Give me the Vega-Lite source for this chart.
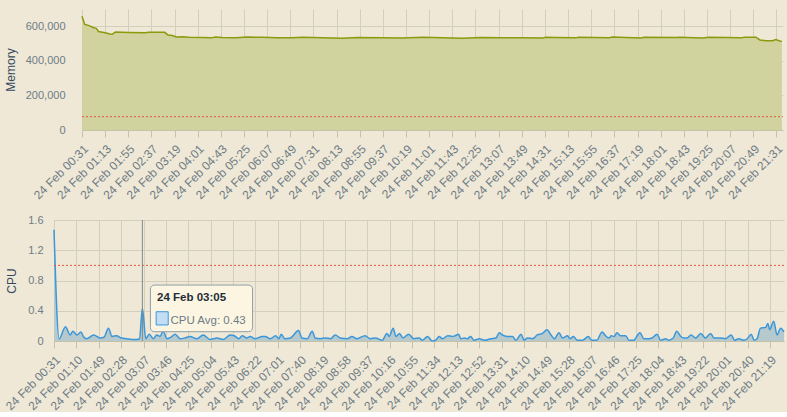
{
  "$schema": "https://vega.github.io/schema/vega-lite/v6.json",
  "background": "#EFE8D6",
  "padding": {"left": 3, "top": 9, "right": 5, "bottom": 0},
  "spacing": 13,
  "config": {
    "font": "Liberation Sans",
    "view": {"stroke": null},
    "axis": {
      "labelFont": "Liberation Sans", "labelFontSize": 11, "labelColor": "#6E7C86",
      "titleFont": "Liberation Sans", "titleFontSize": 12, "titleFontWeight": "normal", "titleColor": "#34495E",
      "gridColor": "#D3CFBC", "gridOpacity": 1, "domainColor": "#C4C2A8", "tickColor": "#C4C2A8"
    },
    "axisX": {"labelAngle": -45, "labelFontSize": 12, "tickSize": 7, "labelOverlap": false, "labelPadding": 6, "labelFlush": false},
    "axisY": {"domain": false, "ticks": false, "tickSize": 0, "labelOverlap": false, "minExtent": 0}
  },
  "datasets": {
    "mem": [
      {"t": "2024-02-24T00:31:00Z", "v": 658000},
      {"t": "2024-02-24T00:36:00Z", "v": 611000},
      {"t": "2024-02-24T00:40:00Z", "v": 608000},
      {"t": "2024-02-24T00:46:00Z", "v": 601000},
      {"t": "2024-02-24T00:52:00Z", "v": 592000},
      {"t": "2024-02-24T00:57:00Z", "v": 588000},
      {"t": "2024-02-24T01:01:00Z", "v": 570000},
      {"t": "2024-02-24T01:13:00Z", "v": 562000},
      {"t": "2024-02-24T01:22:00Z", "v": 556000},
      {"t": "2024-02-24T01:26:00Z", "v": 554000},
      {"t": "2024-02-24T01:32:00Z", "v": 567000},
      {"t": "2024-02-24T01:56:00Z", "v": 564000},
      {"t": "2024-02-24T02:26:00Z", "v": 562000},
      {"t": "2024-02-24T02:32:00Z", "v": 566000},
      {"t": "2024-02-24T03:01:00Z", "v": 565000},
      {"t": "2024-02-24T03:07:00Z", "v": 550000},
      {"t": "2024-02-24T03:15:00Z", "v": 547000},
      {"t": "2024-02-24T03:22:00Z", "v": 538000},
      {"t": "2024-02-24T03:33:00Z", "v": 539000},
      {"t": "2024-02-24T03:45:00Z", "v": 536000},
      {"t": "2024-02-24T04:09:00Z", "v": 535000},
      {"t": "2024-02-24T04:26:00Z", "v": 533000},
      {"t": "2024-02-24T04:33:00Z", "v": 538000},
      {"t": "2024-02-24T04:45:00Z", "v": 535000},
      {"t": "2024-02-24T05:10:00Z", "v": 533000},
      {"t": "2024-02-24T05:31:00Z", "v": 538000},
      {"t": "2024-02-24T05:58:00Z", "v": 536000},
      {"t": "2024-02-24T06:25:00Z", "v": 534000},
      {"t": "2024-02-24T06:52:00Z", "v": 533000},
      {"t": "2024-02-24T07:11:00Z", "v": 536000},
      {"t": "2024-02-24T07:47:00Z", "v": 534000},
      {"t": "2024-02-24T08:23:00Z", "v": 531000},
      {"t": "2024-02-24T08:51:00Z", "v": 535000},
      {"t": "2024-02-24T09:36:00Z", "v": 533000},
      {"t": "2024-02-24T10:12:00Z", "v": 532000},
      {"t": "2024-02-24T10:49:00Z", "v": 536000},
      {"t": "2024-02-24T11:25:00Z", "v": 533000},
      {"t": "2024-02-24T12:01:00Z", "v": 531000},
      {"t": "2024-02-24T12:34:00Z", "v": 535000},
      {"t": "2024-02-24T13:14:00Z", "v": 533000},
      {"t": "2024-02-24T13:50:00Z", "v": 534000},
      {"t": "2024-02-24T14:27:00Z", "v": 532000},
      {"t": "2024-02-24T14:33:00Z", "v": 537000},
      {"t": "2024-02-24T14:51:00Z", "v": 535000},
      {"t": "2024-02-24T15:27:00Z", "v": 533000},
      {"t": "2024-02-24T15:32:00Z", "v": 537000},
      {"t": "2024-02-24T16:28:00Z", "v": 534000},
      {"t": "2024-02-24T16:33:00Z", "v": 538000},
      {"t": "2024-02-24T17:25:00Z", "v": 532000},
      {"t": "2024-02-24T17:31:00Z", "v": 536000},
      {"t": "2024-02-24T18:29:00Z", "v": 535000},
      {"t": "2024-02-24T18:35:00Z", "v": 537000},
      {"t": "2024-02-24T19:17:00Z", "v": 532000},
      {"t": "2024-02-24T19:29:00Z", "v": 536000},
      {"t": "2024-02-24T20:27:00Z", "v": 533000},
      {"t": "2024-02-24T20:33:00Z", "v": 537000},
      {"t": "2024-02-24T20:54:00Z", "v": 537000},
      {"t": "2024-02-24T21:01:00Z", "v": 521000},
      {"t": "2024-02-24T21:12:00Z", "v": 517000},
      {"t": "2024-02-24T21:24:00Z", "v": 516000},
      {"t": "2024-02-24T21:30:00Z", "v": 523000},
      {"t": "2024-02-24T21:37:00Z", "v": 515000},
      {"t": "2024-02-24T21:41:00Z", "v": 514000}
    ],
    "cpu": [
      {"t": "2024-02-24T00:31:00Z", "v": 1.47},
      {"t": "2024-02-24T00:40:00Z", "v": 0.03},
      {"t": "2024-02-24T00:51:00Z", "v": 0.19},
      {"t": "2024-02-24T00:59:00Z", "v": 0.08},
      {"t": "2024-02-24T01:04:00Z", "v": 0.13},
      {"t": "2024-02-24T01:11:00Z", "v": 0.08},
      {"t": "2024-02-24T01:18:00Z", "v": 0.12},
      {"t": "2024-02-24T01:22:00Z", "v": 0.06},
      {"t": "2024-02-24T01:28:00Z", "v": 0.03},
      {"t": "2024-02-24T01:40:00Z", "v": 0.08},
      {"t": "2024-02-24T01:51:00Z", "v": 0.04},
      {"t": "2024-02-24T01:58:00Z", "v": 0.05},
      {"t": "2024-02-24T02:06:00Z", "v": 0.17},
      {"t": "2024-02-24T02:12:00Z", "v": 0.06},
      {"t": "2024-02-24T02:20:00Z", "v": 0.07},
      {"t": "2024-02-24T02:28:00Z", "v": 0.04},
      {"t": "2024-02-24T02:38:00Z", "v": 0.03},
      {"t": "2024-02-24T02:47:00Z", "v": 0.02},
      {"t": "2024-02-24T02:55:00Z", "v": 0.02},
      {"t": "2024-02-24T03:00:00Z", "v": 0.03},
      {"t": "2024-02-24T03:05:00Z", "v": 0.43},
      {"t": "2024-02-24T03:11:00Z", "v": 0.03},
      {"t": "2024-02-24T03:17:00Z", "v": 0.09},
      {"t": "2024-02-24T03:24:00Z", "v": 0.03},
      {"t": "2024-02-24T03:30:00Z", "v": 0.08},
      {"t": "2024-02-24T03:36:00Z", "v": 0.06},
      {"t": "2024-02-24T03:41:00Z", "v": 0.13},
      {"t": "2024-02-24T03:48:00Z", "v": 0.03},
      {"t": "2024-02-24T03:55:00Z", "v": 0.05},
      {"t": "2024-02-24T04:02:00Z", "v": 0.09},
      {"t": "2024-02-24T04:11:00Z", "v": 0.03},
      {"t": "2024-02-24T04:19:00Z", "v": 0.04},
      {"t": "2024-02-24T04:28:00Z", "v": 0.06},
      {"t": "2024-02-24T04:40:00Z", "v": 0.03},
      {"t": "2024-02-24T04:51:00Z", "v": 0.08},
      {"t": "2024-02-24T05:03:00Z", "v": 0.02},
      {"t": "2024-02-24T05:15:00Z", "v": 0.04},
      {"t": "2024-02-24T05:26:00Z", "v": 0.02},
      {"t": "2024-02-24T05:38:00Z", "v": 0.08},
      {"t": "2024-02-24T05:45:00Z", "v": 0.07},
      {"t": "2024-02-24T05:53:00Z", "v": 0.03},
      {"t": "2024-02-24T05:59:00Z", "v": 0.07},
      {"t": "2024-02-24T06:07:00Z", "v": 0.04},
      {"t": "2024-02-24T06:13:00Z", "v": 0.06},
      {"t": "2024-02-24T06:21:00Z", "v": 0.03},
      {"t": "2024-02-24T06:34:00Z", "v": 0.06},
      {"t": "2024-02-24T06:39:00Z", "v": 0.06},
      {"t": "2024-02-24T06:48:00Z", "v": 0.03},
      {"t": "2024-02-24T06:57:00Z", "v": 0.07},
      {"t": "2024-02-24T07:03:00Z", "v": 0.03},
      {"t": "2024-02-24T07:07:00Z", "v": 0.09},
      {"t": "2024-02-24T07:13:00Z", "v": 0.03},
      {"t": "2024-02-24T07:23:00Z", "v": 0.04},
      {"t": "2024-02-24T07:37:00Z", "v": 0.14},
      {"t": "2024-02-24T07:43:00Z", "v": 0.04},
      {"t": "2024-02-24T07:52:00Z", "v": 0.03},
      {"t": "2024-02-24T08:01:00Z", "v": 0.13},
      {"t": "2024-02-24T08:06:00Z", "v": 0.04},
      {"t": "2024-02-24T08:15:00Z", "v": 0.03},
      {"t": "2024-02-24T08:24:00Z", "v": 0.04},
      {"t": "2024-02-24T08:33:00Z", "v": 0.03},
      {"t": "2024-02-24T08:41:00Z", "v": 0.08},
      {"t": "2024-02-24T08:50:00Z", "v": 0.04},
      {"t": "2024-02-24T09:02:00Z", "v": 0.03},
      {"t": "2024-02-24T09:10:00Z", "v": 0.06},
      {"t": "2024-02-24T09:19:00Z", "v": 0.03},
      {"t": "2024-02-24T09:33:00Z", "v": 0.07},
      {"t": "2024-02-24T09:42:00Z", "v": 0.03},
      {"t": "2024-02-24T09:51:00Z", "v": 0.04},
      {"t": "2024-02-24T10:03:00Z", "v": 0.01},
      {"t": "2024-02-24T10:11:00Z", "v": 0.10},
      {"t": "2024-02-24T10:15:00Z", "v": 0.06},
      {"t": "2024-02-24T10:22:00Z", "v": 0.17},
      {"t": "2024-02-24T10:27:00Z", "v": 0.06},
      {"t": "2024-02-24T10:33:00Z", "v": 0.10},
      {"t": "2024-02-24T10:39:00Z", "v": 0.04},
      {"t": "2024-02-24T10:49:00Z", "v": 0.09},
      {"t": "2024-02-24T10:58:00Z", "v": 0.03},
      {"t": "2024-02-24T11:07:00Z", "v": 0.04},
      {"t": "2024-02-24T11:13:00Z", "v": 0.01},
      {"t": "2024-02-24T11:22:00Z", "v": 0.06},
      {"t": "2024-02-24T11:30:00Z", "v": 0.00},
      {"t": "2024-02-24T11:36:00Z", "v": 0.01},
      {"t": "2024-02-24T11:42:00Z", "v": 0.06},
      {"t": "2024-02-24T11:48:00Z", "v": 0.03},
      {"t": "2024-02-24T11:57:00Z", "v": 0.07},
      {"t": "2024-02-24T12:05:00Z", "v": 0.06},
      {"t": "2024-02-24T12:10:00Z", "v": 0.07},
      {"t": "2024-02-24T12:16:00Z", "v": 0.09},
      {"t": "2024-02-24T12:20:00Z", "v": 0.03},
      {"t": "2024-02-24T12:26:00Z", "v": 0.04},
      {"t": "2024-02-24T12:31:00Z", "v": 0.03},
      {"t": "2024-02-24T12:37:00Z", "v": 0.06},
      {"t": "2024-02-24T12:43:00Z", "v": 0.01},
      {"t": "2024-02-24T12:52:00Z", "v": 0.03},
      {"t": "2024-02-24T13:01:00Z", "v": 0.01},
      {"t": "2024-02-24T13:12:00Z", "v": 0.03},
      {"t": "2024-02-24T13:21:00Z", "v": 0.04},
      {"t": "2024-02-24T13:27:00Z", "v": 0.11},
      {"t": "2024-02-24T13:32:00Z", "v": 0.08},
      {"t": "2024-02-24T13:41:00Z", "v": 0.06},
      {"t": "2024-02-24T13:50:00Z", "v": 0.06},
      {"t": "2024-02-24T13:56:00Z", "v": 0.01},
      {"t": "2024-02-24T14:05:00Z", "v": 0.09},
      {"t": "2024-02-24T14:10:00Z", "v": 0.01},
      {"t": "2024-02-24T14:16:00Z", "v": 0.04},
      {"t": "2024-02-24T14:25:00Z", "v": 0.03},
      {"t": "2024-02-24T14:33:00Z", "v": 0.08},
      {"t": "2024-02-24T14:42:00Z", "v": 0.10},
      {"t": "2024-02-24T14:50:00Z", "v": 0.15},
      {"t": "2024-02-24T14:57:00Z", "v": 0.08},
      {"t": "2024-02-24T15:03:00Z", "v": 0.03},
      {"t": "2024-02-24T15:11:00Z", "v": 0.11},
      {"t": "2024-02-24T15:17:00Z", "v": 0.04},
      {"t": "2024-02-24T15:26:00Z", "v": 0.07},
      {"t": "2024-02-24T15:30:00Z", "v": 0.03},
      {"t": "2024-02-24T15:36:00Z", "v": 0.06},
      {"t": "2024-02-24T15:43:00Z", "v": 0.01},
      {"t": "2024-02-24T15:52:00Z", "v": 0.01},
      {"t": "2024-02-24T16:02:00Z", "v": 0.06},
      {"t": "2024-02-24T16:08:00Z", "v": 0.01},
      {"t": "2024-02-24T16:17:00Z", "v": 0.01},
      {"t": "2024-02-24T16:26:00Z", "v": 0.12},
      {"t": "2024-02-24T16:32:00Z", "v": 0.07},
      {"t": "2024-02-24T16:38:00Z", "v": 0.04},
      {"t": "2024-02-24T16:42:00Z", "v": 0.07},
      {"t": "2024-02-24T16:47:00Z", "v": 0.06},
      {"t": "2024-02-24T16:52:00Z", "v": 0.11},
      {"t": "2024-02-24T16:58:00Z", "v": 0.07},
      {"t": "2024-02-24T17:07:00Z", "v": 0.07},
      {"t": "2024-02-24T17:13:00Z", "v": 0.01},
      {"t": "2024-02-24T17:21:00Z", "v": 0.01},
      {"t": "2024-02-24T17:32:00Z", "v": 0.11},
      {"t": "2024-02-24T17:39:00Z", "v": 0.03},
      {"t": "2024-02-24T17:48:00Z", "v": 0.03},
      {"t": "2024-02-24T17:53:00Z", "v": 0.04},
      {"t": "2024-02-24T18:02:00Z", "v": 0.09},
      {"t": "2024-02-24T18:08:00Z", "v": 0.01},
      {"t": "2024-02-24T18:17:00Z", "v": 0.03},
      {"t": "2024-02-24T18:22:00Z", "v": 0.01},
      {"t": "2024-02-24T18:30:00Z", "v": 0.04},
      {"t": "2024-02-24T18:36:00Z", "v": 0.13},
      {"t": "2024-02-24T18:43:00Z", "v": 0.06},
      {"t": "2024-02-24T18:49:00Z", "v": 0.04},
      {"t": "2024-02-24T18:54:00Z", "v": 0.04},
      {"t": "2024-02-24T19:01:00Z", "v": 0.08},
      {"t": "2024-02-24T19:09:00Z", "v": 0.04},
      {"t": "2024-02-24T19:18:00Z", "v": 0.10},
      {"t": "2024-02-24T19:26:00Z", "v": 0.04},
      {"t": "2024-02-24T19:35:00Z", "v": 0.10},
      {"t": "2024-02-24T19:41:00Z", "v": 0.04},
      {"t": "2024-02-24T19:52:00Z", "v": 0.04},
      {"t": "2024-02-24T20:01:00Z", "v": 0.03},
      {"t": "2024-02-24T20:11:00Z", "v": 0.08},
      {"t": "2024-02-24T20:17:00Z", "v": 0.01},
      {"t": "2024-02-24T20:24:00Z", "v": 0.03},
      {"t": "2024-02-24T20:33:00Z", "v": 0.01},
      {"t": "2024-02-24T20:39:00Z", "v": 0.03},
      {"t": "2024-02-24T20:46:00Z", "v": 0.09},
      {"t": "2024-02-24T20:51:00Z", "v": 0.01},
      {"t": "2024-02-24T20:56:00Z", "v": 0.03},
      {"t": "2024-02-24T21:02:00Z", "v": 0.17},
      {"t": "2024-02-24T21:11:00Z", "v": 0.18},
      {"t": "2024-02-24T21:15:00Z", "v": 0.23},
      {"t": "2024-02-24T21:18:00Z", "v": 0.15},
      {"t": "2024-02-24T21:25:00Z", "v": 0.26},
      {"t": "2024-02-24T21:31:00Z", "v": 0.08},
      {"t": "2024-02-24T21:37:00Z", "v": 0.17},
      {"t": "2024-02-24T21:43:00Z", "v": 0.12}
    ],
    "memLimit": [{"limit": 77000, "t": "2024-02-24T00:31:00Z", "t2": "2024-02-24T21:43:00Z"}],
    "cpuLimit": [{"limit": 1}],
    "hover": [{"t": "2024-02-24T03:05:00Z"}],
    "tipBox": [{"t": "2024-02-24T03:19:00Z", "t2": "2024-02-24T06:17:00Z", "v": 0.74, "v2": 0.123}],
    "tipSwatch": [{"t": "2024-02-24T03:29:00Z", "t2": "2024-02-24T03:50:00Z", "v": 0.387, "v2": 0.212}],
    "tipTitle": [{"t": "2024-02-24T03:30:30Z", "v": 0.533, "label": "24 Feb 03:05"}],
    "tipText": [{"t": "2024-02-24T03:54:00Z", "v": 0.225, "label": "CPU Avg: 0.43"}]
  },
  "vconcat": [
    {
      "width": 730,
      "height": 121,
      "layer": [
        {
          "data": {"name": "mem"},
          "mark": {"type": "area", "color": "#D1D39E", "opacity": 1},
          "encoding": {
            "x": {"field": "t", "type": "temporal",
              "scale": {"type": "utc", "nice": false, "domain": [1708734660000, 1708810980000], "range": [28, 729]},
              "axis": {"title": null, "format": "%d %b %H:%M", "labelOverlap": false, "tickCount": 100,
                "values": [1708734660000,1708737180000,1708739700000,1708742220000,1708744740000,1708747260000,1708749780000,1708752300000,1708754820000,1708757340000,1708759860000,1708762380000,1708764900000,1708767420000,1708769940000,1708772460000,1708774980000,1708777500000,1708780020000,1708782540000,1708785060000,1708787580000,1708790100000,1708792620000,1708795140000,1708797660000,1708800180000,1708802700000,1708805220000,1708807740000,1708810260000]}},
            "y": {"field": "v", "type": "quantitative", "scale": {"domain": [0, 700000], "nice": false},
              "axis": {"title": "Memory", "values": [0, 200000, 400000, 600000], "tickCount": 100, "format": ",d", "labelOverlap": false, "labelPadding": 17, "titlePadding": 8, "offset": -28}}
          }
        },
        {
          "data": {"name": "mem"},
          "mark": {"type": "line", "color": "#8A9A0C", "strokeWidth": 1.5},
          "encoding": {
            "x": {"field": "t", "type": "temporal"},
            "y": {"field": "v", "type": "quantitative"}
          }
        },
        {
          "data": {"name": "memLimit"},
          "mark": {"type": "rule", "color": "#E2553F", "strokeDash": [2, 2], "strokeWidth": 1},
          "encoding": {
            "x": {"field": "t", "type": "temporal"},
            "x2": {"field": "t2"},
            "y": {"field": "limit", "type": "quantitative"}
          }
        }
      ]
    },
    {
      "width": 730,
      "height": 121,
      "layer": [
        {
          "data": {"name": "cpu"},
          "mark": {"type": "area", "color": "#B6C9CC", "opacity": 1, "interpolate": "monotone"},
          "encoding": {
            "x": {"field": "t", "type": "temporal", "scale": {"type": "utc", "nice": false},
              "axis": {"title": null, "format": "%d %b %H:%M", "labelOverlap": false, "tickCount": 100,
                "values": [1708734660000,1708737000000,1708739340000,1708741680000,1708744020000,1708746360000,1708748700000,1708751040000,1708753380000,1708755720000,1708758060000,1708760400000,1708762740000,1708765080000,1708767420000,1708769760000,1708772100000,1708774440000,1708776780000,1708779120000,1708781460000,1708783800000,1708786140000,1708788480000,1708790820000,1708793160000,1708795500000,1708797840000,1708800180000,1708802520000,1708804860000,1708807200000,1708809540000]}},
            "y": {"field": "v", "type": "quantitative", "scale": {"domain": [0, 1.6], "nice": false},
              "axis": {"title": "CPU", "values": [0, 0.4, 0.8, 1.2, 1.6], "tickCount": 100, "format": ".1~f", "labelOverlap": false, "labelPadding": 11, "titlePadding": 9}}
          }
        },
        {
          "data": {"name": "cpu"},
          "mark": {"type": "line", "color": "#3B97DA", "strokeWidth": 1.5, "interpolate": "monotone"},
          "encoding": {
            "x": {"field": "t", "type": "temporal"},
            "y": {"field": "v", "type": "quantitative"}
          }
        },
        {
          "data": {"name": "cpuLimit"},
          "mark": {"type": "rule", "color": "#E2553F", "strokeDash": [2, 2], "strokeWidth": 1},
          "encoding": {"y": {"field": "limit", "type": "quantitative"}}
        },
        {
          "data": {"name": "hover"},
          "mark": {"type": "rule", "color": "#7E8A8C", "strokeWidth": 1},
          "encoding": {"x": {"field": "t", "type": "temporal"}}
        },
        {
          "data": {"name": "tipBox"},
          "mark": {"type": "rect", "fill": "#FCF5E2", "stroke": "#8F9EA6", "strokeWidth": 1, "cornerRadius": 4},
          "encoding": {
            "x": {"field": "t", "type": "temporal"},
            "x2": {"field": "t2"},
            "y": {"field": "v", "type": "quantitative"},
            "y2": {"field": "v2"}
          }
        },
        {
          "data": {"name": "tipSwatch"},
          "mark": {"type": "rect", "fill": "#C3DDF4", "stroke": "#3B97DA", "strokeWidth": 1},
          "encoding": {
            "x": {"field": "t", "type": "temporal"},
            "x2": {"field": "t2"},
            "y": {"field": "v", "type": "quantitative"},
            "y2": {"field": "v2"}
          }
        },
        {
          "data": {"name": "tipTitle"},
          "mark": {"type": "text", "align": "left", "baseline": "alphabetic", "fontSize": 11.5, "fontWeight": "bold", "color": "#1F2E38"},
          "encoding": {
            "x": {"field": "t", "type": "temporal"},
            "y": {"field": "v", "type": "quantitative"},
            "text": {"field": "label"}
          }
        },
        {
          "data": {"name": "tipText"},
          "mark": {"type": "text", "align": "left", "baseline": "alphabetic", "fontSize": 11.5, "color": "#6E7C86"},
          "encoding": {
            "x": {"field": "t", "type": "temporal"},
            "y": {"field": "v", "type": "quantitative"},
            "text": {"field": "label"}
          }
        }
      ]
    }
  ]
}
